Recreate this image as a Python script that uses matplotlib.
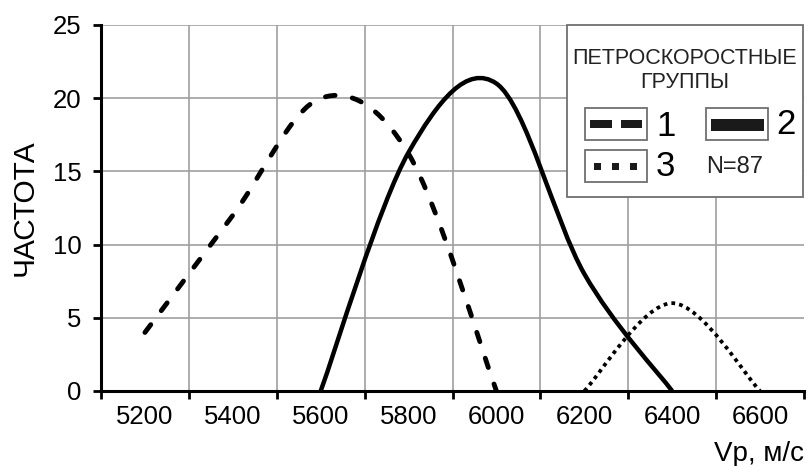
import numpy as np
import matplotlib
matplotlib.use('Agg')
import matplotlib.pyplot as plt
from matplotlib.path import Path
from matplotlib.patches import PathPatch, Rectangle

plt.rcParams['font.family'] = ['Liberation Sans', 'DejaVu Sans']

# velocity classes, m/s
categories = ['5200', '5400', '5600', '5800', '6000', '6200', '6400', '6600']

# frequency per class for each petro-velocity group (None = no data)
group1 = [4, 12, 20, 16.2, 0, None, None, None]
group2 = [None, None, 0, 16.3, 21, 8, 0, None]
group3 = [None, None, None, None, None, 0, 6, 0]

W, H = 808, 466
fig = plt.figure(figsize=(W / 100, H / 100), dpi=100)
ax = fig.add_axes([101 / W, 1 - 391 / H, 703 / W, 366 / H])


def smooth_path(values):
    """Excel-style smoothed line: Catmull-Rom segments as cubic Beziers."""
    pts = [(i, v) for i, v in enumerate(values) if v is not None]
    p = np.array(pts, dtype=float)
    n = len(p)
    verts = [tuple(p[0])]
    codes = [Path.MOVETO]
    for i in range(n - 1):
        p0 = p[max(i - 1, 0)]
        p1 = p[i]
        p2 = p[i + 1]
        p3 = p[min(i + 2, n - 1)]
        c1 = p1 + (p2 - p0) / 6
        c2 = p2 - (p3 - p1) / 6
        verts += [tuple(c1), tuple(c2), tuple(p2)]
        codes += [Path.CURVE4] * 3
    return Path(verts, codes)


styles = [
    (group1, dict(linestyle=(0, (2.0, 3.6)), linewidth=3.5, capstyle='round')),
    (group2, dict(linestyle='-', linewidth=3.2)),
    (group3, dict(linestyle=(0, (1.0, 1.1)), linewidth=2.7, capstyle='butt')),
]
for values, st in styles:
    ax.add_patch(PathPatch(smooth_path(values), facecolor='none',
                           edgecolor='black', zorder=3, **st))

# category axis: labels in the middle, tick marks and grid on the boundaries
n = len(categories)
ax.set_xlim(-0.5, n - 0.5)
ax.set_ylim(0, 25)
ax.set_xticks(range(n))
ax.set_xticklabels(categories)
ax.set_xticks(np.arange(-0.5, n, 1.0), minor=True)
ax.set_yticks(range(0, 26, 5))

ax.tick_params(axis='x', which='major', length=0, pad=10, labelsize=18.5)
ax.tick_params(axis='x', which='minor', length=6, width=2, direction='out')
ax.tick_params(axis='y', length=6, width=2, pad=8, labelsize=18.5)

ax.grid(True, axis='x', which='minor', color='#a0a0a0', linewidth=1.2)
ax.grid(True, axis='y', which='major', color='#a0a0a0', linewidth=1.2)
ax.xaxis.get_minor_ticks()[-1].gridline.set_visible(False)
ax.set_axisbelow(True)

for side in ('top', 'right'):
    ax.spines[side].set_visible(False)
for side in ('left', 'bottom'):
    ax.spines[side].set_linewidth(2.2)

ax.set_ylabel('ЧАСТОТА', fontsize=21.5, labelpad=10)
fig.text(804 / W, 1 - 461 / H, 'Vp, м/с', fontsize=20, ha='right', va='baseline')


# legend panel, laid out in pixels from the top-left corner
def fx(x):
    return x / W


def fy(y):
    return 1 - y / H


def box(x0, y0, x1, y1, **kw):
    fig.add_artist(Rectangle((fx(x0), fy(y1)), fx(x1) - fx(x0), fy(y0) - fy(y1),
                             transform=fig.transFigure, **kw))


box(567, 25, 803, 197, facecolor='white', edgecolor='#707070', linewidth=1.3, zorder=5)
fig.text(fx(685), fy(59), 'ПЕТРОСКОРОСТНЫЕ', fontsize=15.5, ha='center', va='center',
         color='#222222', zorder=6)
fig.text(fx(685), fy(83), 'ГРУППЫ', fontsize=15.5, ha='center', va='center',
         color='#222222', zorder=6)

frame = dict(facecolor='white', edgecolor='#707070', linewidth=1.3, zorder=6)
fill = dict(facecolor='#1a1a1a', edgecolor='none', zorder=7)
box(585, 108, 647, 140, **frame)
box(590, 120, 612, 128, **fill)
box(621, 120, 642, 128, **fill)
box(706, 108, 768, 140, **frame)
box(711, 119, 764, 131, **fill)
box(585, 150, 647, 182, **frame)
for x0 in (594, 612, 630):
    box(x0, 163, x0 + 7, 170, **fill)

fig.text(fx(656), fy(126), '1', fontsize=25, va='center', zorder=8)
fig.text(fx(776), fy(124), '2', fontsize=25, va='center', zorder=8)
fig.text(fx(656), fy(167), '3', fontsize=25, va='center', zorder=8)
fig.text(fx(706), fy(167), 'N=87', fontsize=17, va='center', color='#222222', zorder=8)

fig.savefig('out.png', dpi=100, facecolor='white')
